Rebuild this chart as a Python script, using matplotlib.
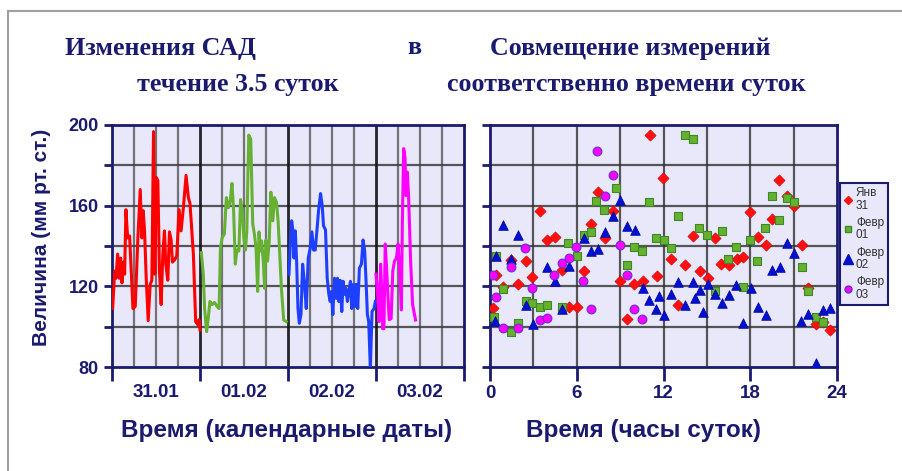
import matplotlib
matplotlib.use("Agg")
import matplotlib.pyplot as plt
from matplotlib.patches import Rectangle
from matplotlib.lines import Line2D

# --- left panel: SAD over 3.5 days (x in hours from 31.01 00:00) ---
red_t = [0.18, 0.72, 1.09, 1.54, 1.99, 2.35, 2.72, 3.08, 3.44, 3.80, 4.26, 4.80, 5.25, 5.71,
         6.34, 7.06, 7.70, 8.15, 8.51, 8.88, 9.33, 9.87, 10.42, 10.87, 11.32, 11.68, 12.05,
         12.50, 12.95, 13.40, 13.86, 14.31, 14.67, 15.22, 15.67, 16.12, 16.48, 17.03, 17.66,
         18.29, 18.84, 19.47, 20.20, 20.83, 21.28, 22.19, 22.82, 23.37, 23.73, 24.0]
red_v = [109, 127.5, 124, 136, 124, 134, 121.7, 132, 126, 158, 144, 145, 127.5, 109,
         110, 144, 168, 144, 157.5, 147.5, 124, 103, 121, 123, 196.7, 126, 174,
         172.5, 127.5, 111, 136, 147.5, 131, 123, 147, 143, 132, 133, 135,
         158, 147.5, 159, 175, 164, 161, 136, 102.5, 101, 103.5, 98.3]

green_t = [24.36, 24.90, 25.26, 25.80, 26.25, 26.70, 27.33, 27.96, 28.67, 29.21, 29.57, 30.02,
           30.65, 31.19, 31.73, 32.27, 32.72, 33.17, 33.62, 34.07, 34.61, 35.06, 35.51, 35.96,
           36.40, 36.76, 37.30, 37.84, 38.38, 38.83, 39.28, 39.73, 40.09, 40.45, 40.81, 41.26,
           41.62, 41.98, 42.43, 42.88, 43.33, 43.87, 44.32, 44.86, 45.30, 46.20, 46.83, 47.55]
green_v = [136.7, 126, 109, 97.5, 104, 112.5, 111, 112, 110, 109, 139, 144,
           146, 164, 159, 162.5, 171, 157.5, 131, 138, 137.5, 163, 157.5, 144,
           138, 147.5, 195, 193, 151, 146, 139, 117.5, 147, 137.5, 142.5, 132.5,
           119, 143, 132.5, 142.5, 166.7, 152.5, 164, 161.7, 152.5, 119, 103.3, 102.5]

blue_t = [48.27, 48.63, 49.00, 49.36, 49.63, 49.99, 50.35, 50.72, 51.08, 51.53, 51.99, 52.44,
          52.98, 53.52, 54.07, 54.52, 54.97, 55.43, 55.88, 56.33, 56.88, 57.33, 57.69, 58.23,
          58.69, 59.14, 59.50, 59.86, 60.23, 60.68, 61.13, 61.49, 61.86, 62.22, 62.67, 63.03,
          63.40, 63.76, 64.21, 64.57, 65.03, 65.39, 65.84, 66.20, 66.57, 67.02, 67.47, 68.02,
          68.47, 68.92, 69.29, 69.65, 70.01, 70.46, 70.92, 71.46, 71.82]
blue_v = [126, 141, 152.5, 147.5, 134, 147.5, 132.5, 109, 101.7, 106, 131, 122.5,
          109, 134, 139, 147, 138, 138, 147.5, 157.5, 166, 160, 150, 148,
          124, 116, 112.5, 117.5, 106, 124, 114, 124, 112.5, 123, 107.5, 122.5,
          116, 119, 112.5, 117.5, 122.5, 109, 121, 110, 121, 109, 129, 131,
          143, 137.5, 122.5, 106, 102.5, 79, 107.5, 109, 112.5]

mag_t = [72.0, 72.45, 72.81, 73.26, 73.53, 73.80, 74.16, 74.52, 74.88, 75.24, 75.60, 76.13,
         76.58, 77.03, 77.57, 78.02, 78.47, 78.92, 79.19, 79.55, 79.91, 80.18, 80.54, 80.90,
         81.44, 81.98, 82.79]
mag_v = [126, 116, 102.5, 131, 119, 99, 99, 141, 129, 116, 103.5, 104,
         127.5, 132.5, 134, 141, 127.5, 108.3, 152.5, 188.3, 184, 165, 176.7, 164,
         132.5, 111, 103.3]

day_labels = ["31.01", "01.02", "02.02", "03.02"]

# --- right panel: same measurements by hour of day ---
jan31_h = [11.08, 11.95, 3.46, 3.97, 4.5, 7.45, 8.49, 6.99, 7.98, 2.47, 1.43, 0.42, 0.92, 1.96,
           2.93, 0.23, 4.98, 5.49, 6.0, 6.51, 9.0, 9.97, 10.57, 11.54, 9.46, 12.51, 12.97,
           20.01, 20.52, 21.02, 17.99, 19.53, 18.52, 19.07, 21.55, 14.01, 15.57, 13.51, 14.54,
           15.05, 15.97, 16.54, 17.07, 17.53, 22.01, 22.52, 23.0, 23.51]
jan31_v = [195, 173.8, 157.2, 142.8, 144.5, 166.7, 157.2, 150.8, 144.2, 132.5, 133.3, 125.5,
           119.8, 121.3, 124.7, 109.5, 128.3, 109.7, 109.7, 127.5, 122.5, 121.3, 122.5, 125,
           103.7, 133.8, 110.8, 172.8, 165, 160, 156.7, 153.3, 144.5, 140.5, 140.5, 145, 144.2,
           130.5, 127.5, 124.2, 131.2, 130.8, 133.8, 134.5, 119.2, 101.2, 102.5, 98.3]

feb01_h = [0.28, 0.92, 0.42, 1.43, 1.92, 2.47, 2.93, 3.46, 3.97, 4.96, 5.42, 6.0, 6.48, 6.97,
           7.34, 7.89, 8.7, 9.46, 9.97, 10.5, 11.0, 11.5, 12.0, 12.51, 12.97, 13.51, 14.01,
           14.47, 15.0, 16.03, 17.0, 16.49, 17.99, 19.02, 18.49, 17.53, 15.53, 19.53, 20.52,
           21.02, 20.01, 21.55, 22.01, 22.52, 23.0]
feb01_v = [104.7, 118.8, 135, 97.5, 102, 112.5, 111.7, 110, 110.8, 110, 141.7, 135, 145.5, 147,
           162.5, 157.8, 168.7, 130.8, 139.5, 137.5, 162, 143.8, 143, 138.8, 155, 195, 193,
           148.8, 145.5, 147.2, 139.7, 133.8, 143, 148.8, 132.8, 119.7, 117.5, 164.7, 163.8,
           162, 152.8, 129.7, 117.5, 104.7, 102.5]

feb02_h = [0.42, 0.92, 1.43, 1.96, 0.35, 2.47, 3.0, 3.97, 4.5, 4.96, 5.49, 6.48, 6.99, 7.5,
           7.98, 8.49, 9.0, 9.51, 10.04, 10.55, 11.03, 11.49, 11.72, 12.0, 12.53, 12.97, 13.51,
           14.01, 14.2, 14.54, 14.72, 15.05, 15.57, 16.03, 16.56, 17.02, 17.53, 18.06, 18.52,
           19.07, 19.53, 20.06, 20.52, 21.05, 21.51, 22.01, 22.52, 23.0, 23.55]
feb02_v = [135, 150.3, 133.7, 145.3, 103, 110.8, 101.2, 129.5, 122.8, 108.8, 130, 144.2, 137.5,
           138.3, 147, 155, 163, 150, 147.8, 119.2, 113, 108.8, 115, 105.8, 116.2, 122, 110.8,
           122.2, 114.2, 118, 107.2, 121.2, 116.2, 111.7, 115.5, 120.5, 101.7, 119.2, 110,
           105.8, 128.3, 129.7, 141.3, 136.3, 103, 106.2, 82.2, 108.3, 109.2]

feb03_h = [0.23, 0.42, 0.92, 1.43, 1.96, 2.42, 2.93, 3.46, 3.92, 4.43, 4.96, 5.47, 5.95, 6.46,
           6.97, 7.39, 7.98, 8.49, 9.0, 9.46, 9.97, 10.5]
feb03_v = [125.8, 114.5, 99.5, 129.7, 99.5, 138.8, 119.2, 103.3, 104.5, 125.8, 131.7, 134.2,
           139.7, 122.5, 108.8, 187, 165, 175, 140.5, 125.8, 108.8, 103.7]

legend_labels = ["Янв\n31", "Февр\n01", "Февр\n02", "Февр\n03"]

navy = "#1a1a6e"
bg = "#e8e8fa"
sans = ["Liberation Sans", "DejaVu Sans"]
serif = ["Liberation Serif", "DejaVu Serif"]

fig = plt.figure(figsize=(9.02, 4.71), dpi=100)
W, H = 902.0, 471.0

# grey outer frame
fig.patches.append(Rectangle((8 / W, -0.1), 1.2, 1 - 11 / H + 0.1, transform=fig.transFigure,
                             fill=False, edgecolor="#a0a0a0", linewidth=1.5))

def px_axes(x0, y0, x1, y1):
    return fig.add_axes([x0 / W, 1 - y1 / H, (x1 - x0) / W, (y1 - y0) / H])

def style(ax):
    ax.set_facecolor(bg)
    for s in ax.spines.values():
        s.set_color(navy)
        s.set_linewidth(2)
    ax.set_ylim(80, 200)
    ax.set_yticks(range(80, 201, 20))
    ax.tick_params(axis="y", direction="out", length=6, width=2, color=navy)
    ax.tick_params(axis="x", direction="out", length=10, width=2, color=navy)
    for y in range(100, 200, 20):
        ax.axhline(y, color="#303030", lw=1.6, alpha=0.8, zorder=1)

ax1 = px_axes(112, 125, 464, 367)
style(ax1)
ax1.set_xlim(0, 96)
for h in range(6, 96, 6):
    dark = h % 24 == 0
    ax1.axvline(h, color="#111111" if dark else "#404040", lw=2 if dark else 1.6,
                alpha=0.9 if dark else 0.7, zorder=1)
ax1.plot(red_t, red_v, color="#ff0000", lw=2.2, zorder=3)
ax1.plot(green_t, green_v, color="#66b032", lw=2.2, zorder=3)
ax1.plot(blue_t, blue_v, color="#1f3fff", lw=2.2, zorder=3)
ax1.plot(mag_t, mag_v, color="#ff00ff", lw=2.2, zorder=3)
ax1.set_xticks([0, 24, 48, 72, 96])
ax1.set_xticklabels([])
ax1.set_xticks([12, 36, 60, 84], minor=True)
ax1.set_xticklabels(day_labels, minor=True, fontfamily=sans, fontweight="bold",
                    fontsize=13.5, color=navy)
ax1.tick_params(axis="x", which="minor", length=0, pad=12)
ax1.set_yticklabels(["80", "", "120", "", "160", "", "200"], fontfamily=sans,
                    fontweight="bold", fontsize=13, color=navy)

ax2 = px_axes(490, 125, 837, 367)
style(ax2)
ax2.set_xlim(0, 24)
for h in range(3, 24, 3):
    ax2.axvline(h, color="#303030", lw=1.6, alpha=0.8, zorder=1)
ax2.set_xticks([0, 6, 12, 18, 24])
ax2.set_xticklabels(["0", "6", "12", "18", "24"], fontfamily=sans, fontweight="bold",
                    fontsize=13.5, color=navy)
ax2.tick_params(axis="x", pad=3)
ax2.set_yticklabels([])
ax2.scatter(jan31_h, jan31_v, marker="D", s=32, color="#ff1010", edgecolor="#e00000",
            linewidth=0.5, zorder=3)
ax2.scatter(feb01_h, feb01_v, marker="s", s=38, color="#66b032", edgecolor="#3c8a20",
            linewidth=0.8, zorder=3)
ax2.scatter(feb02_h, feb02_v, marker="^", s=48, color="#0010cc", edgecolor="#0000aa",
            linewidth=0.5, zorder=3)
ax2.scatter(feb03_h, feb03_v, marker="o", s=40, color="#ff00ff", edgecolor="#6633cc",
            linewidth=0.8, zorder=3)

handles = [
    Line2D([], [], ls="", marker="D", ms=4.5, color="#ff1010"),
    Line2D([], [], ls="", marker="s", ms=5, color="#66b032", mec="#3c8a20"),
    Line2D([], [], ls="", marker="^", ms=6.5, color="#0010cc"),
    Line2D([], [], ls="", marker="o", ms=5, color="#ff00ff", mec="#6633cc"),
]
leg = fig.legend(handles, legend_labels, loc="upper left",
                 bbox_to_anchor=(840 / W, 1 - 183 / H), prop={"family": sans, "size": 8.5},
                 handlelength=0.7, handletextpad=0.3, borderpad=0.35, labelspacing=0.45,
                 borderaxespad=0, fancybox=False, framealpha=1)
leg.get_frame().set_edgecolor(navy)
leg.get_frame().set_linewidth(1.5)
leg.get_frame().set_facecolor(bg)
for t in leg.get_texts():
    t.set_color("#333333")
    t.set_linespacing(1.05)

# titles
tkw = dict(family=serif, fontweight="bold", fontsize=18.7, color=navy, va="center")
fig.text(65 / W, 1 - 48 / H, "Изменения САД", ha="left", **tkw)
fig.text(414 / W, 1 - 48 / H, "в", ha="center", **tkw)
fig.text(490 / W, 1 - 48 / H, "Совмещение измерений", ha="left", **tkw)
fig.text(137 / W, 1 - 85 / H, "течение 3.5 суток", ha="left", **tkw)
fig.text(447 / W, 1 - 85 / H, "соответственно времени суток", ha="left", **tkw)

# axis labels
lkw = dict(family=sans, fontweight="bold", color=navy, va="center", ha="center")
fig.text(42 / W, 1 - 237 / H, "Величина (мм рт. ст.)", rotation=90, fontsize=15, **lkw)
fig.text(287 / W, 1 - 430 / H, "Время (календарные даты)", fontsize=17.5, **lkw)
fig.text(644 / W, 1 - 430 / H, "Время (часы суток)", fontsize=17.5, **lkw)

fig.savefig("out.png", dpi=100)
